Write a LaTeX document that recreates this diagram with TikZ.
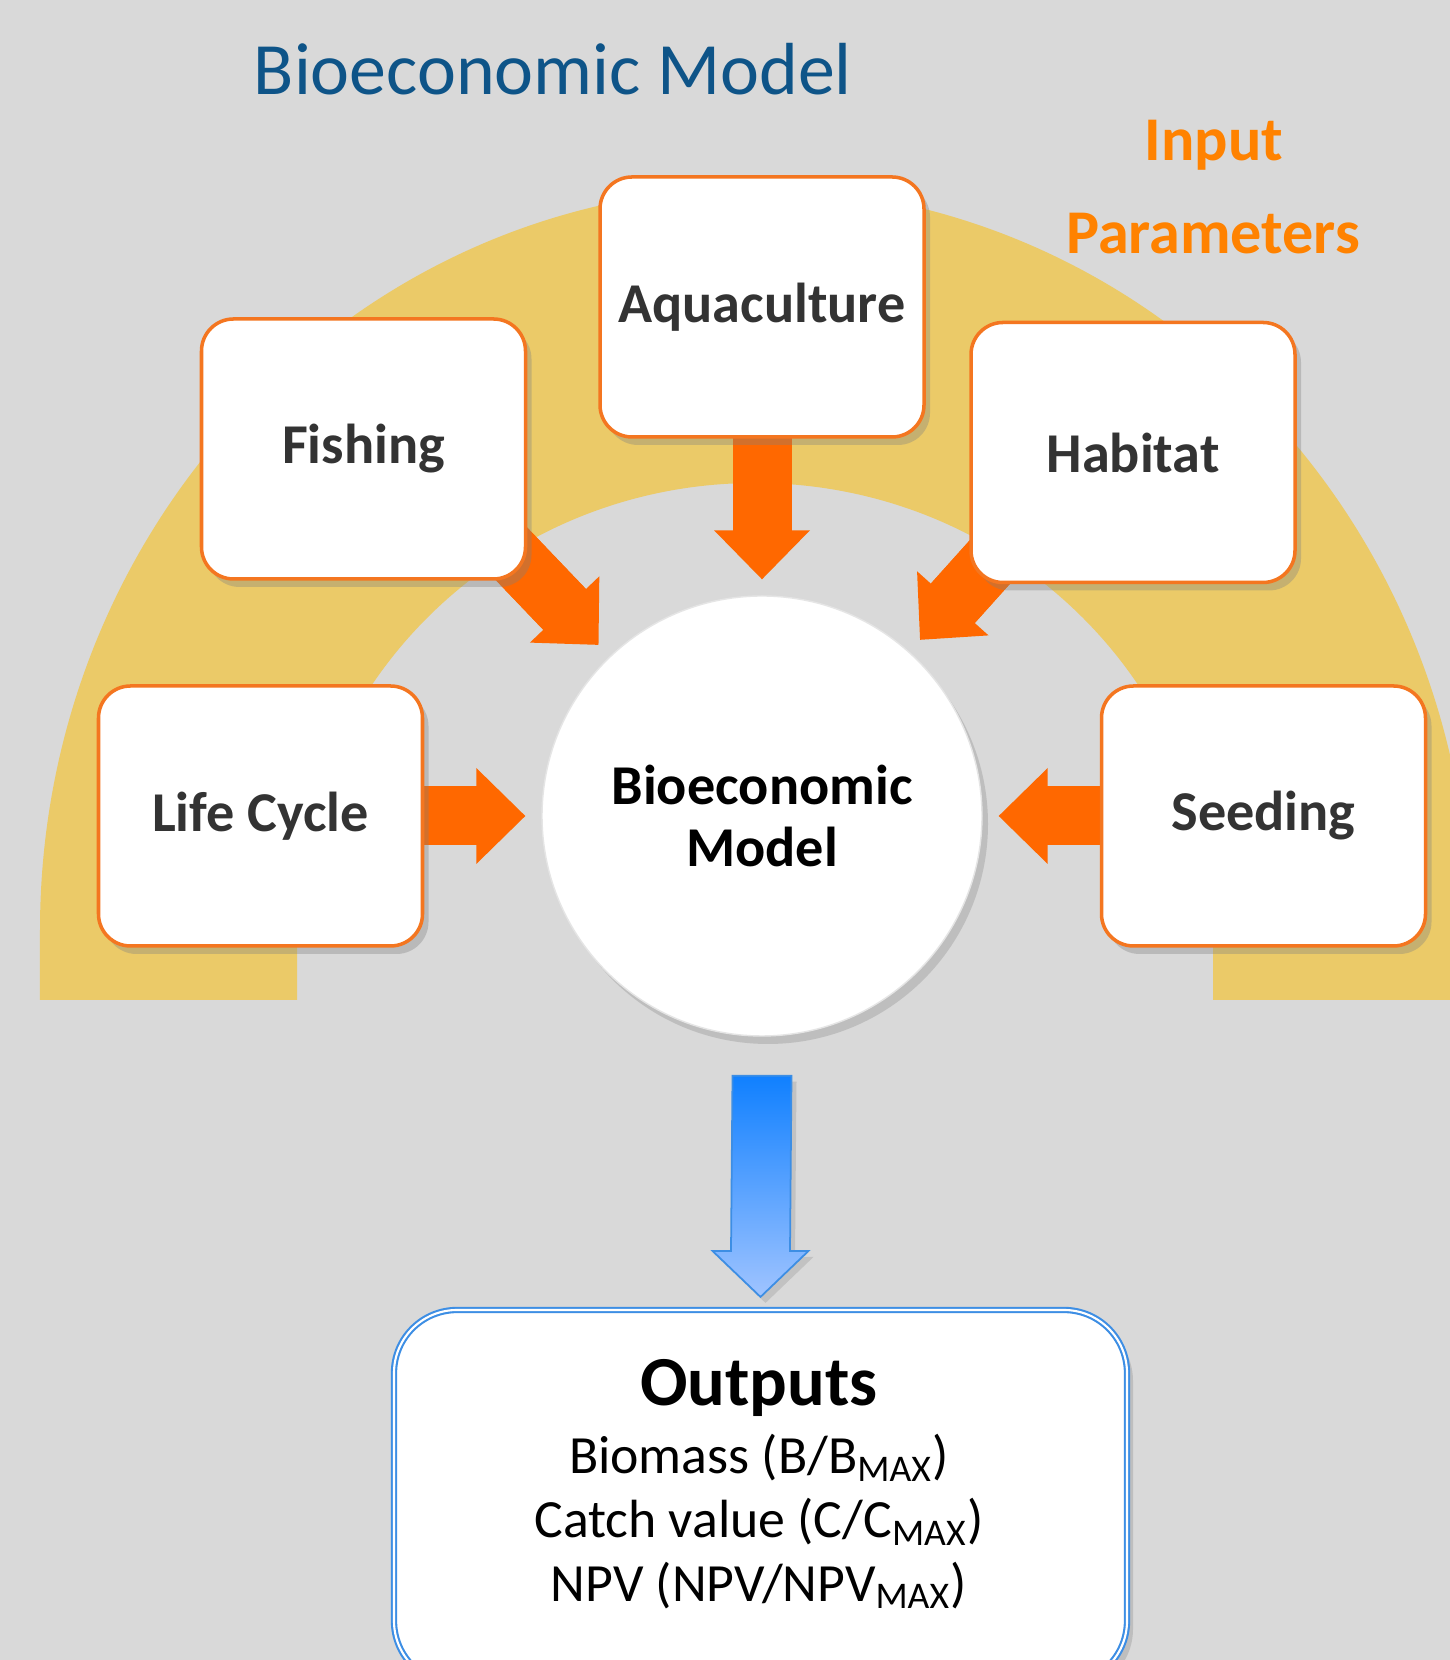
\documentclass[tikz,border=0pt]{standalone}
\usepackage{fontspec}
\setmainfont{Carlito}
\usetikzlibrary{arrows.meta,shadows}
\definecolor{BackClr}{RGB}{217,217,217}
\definecolor{ArchClr}{RGB}{235,202,104}
\definecolor{BoxClr}{RGB}{244,118,32}
\definecolor{ArrowClr}{RGB}{255,104,0}
\definecolor{TitleClr}{RGB}{14,84,136}
\definecolor{InputClr}{RGB}{255,130,0}
\definecolor{LabelClr}{RGB}{51,51,51}
\definecolor{OutClr}{RGB}{61,142,228}
\definecolor{BlueTop}{RGB}{16,128,255}
\definecolor{BlueBot}{RGB}{160,196,255}
\pgfdeclarelayer{backdrop}
\pgfdeclarelayer{links}
\pgfsetlayers{backdrop,links,main}

\begin{document}
\begin{tikzpicture}[
  box/.style={rectangle, rounded corners=0.32cm, draw=BoxClr, line width=1pt, fill=white,
    minimum width=3.24cm, minimum height=2.6cm, text=LabelClr,
    font=\fontsize{16pt}{19pt}\selectfont\bfseries,
    drop shadow={opacity=0.35, shadow xshift=0.6mm, shadow yshift=-0.8mm}},
  model/.style={circle, fill=white, draw=black!10, minimum size=4.4cm, inner sep=0pt,
    align=center, font=\fontsize{16pt}{17.6pt}\selectfont\bfseries,
    drop shadow={opacity=0.3, shadow xshift=0.6mm, shadow yshift=-0.8mm}},
  inarrow/.style={draw=ArrowClr, line width=0.59cm, shorten >=0.16cm,
    -{Triangle[length=0.49cm, width=0.96cm, line width=0pt]},
    preaction={draw=ArrowClr, line width=0.59cm, shorten >=0.55cm, -}},
  outbox/.style={rectangle, rounded corners=0.63cm, draw=OutClr, double=white,
    double distance=0.6pt, line width=0.6pt, fill=white,
    minimum width=7.33cm, minimum height=3.74cm,
    drop shadow={opacity=0.3, shadow xshift=0.6mm, shadow yshift=-0.8mm}},
  heading/.style={anchor=base, font=\fontsize{17.7pt}{21pt}\selectfont\bfseries, text=InputClr},
  outtext/.style={anchor=base, font=\fontsize{15.3pt}{18pt}\selectfont}
]
\useasboundingbox (0,0) rectangle (14.5,16.6);

\begin{pgfonlayer}{backdrop}
\fill[BackClr] (0,0) rectangle (14.5,16.6);
\fill[ArchClr] (0.40,6.60) -- (0.40,7.30)
  arc[start angle=180, end angle=0, x radius=7.15cm, y radius=7.42cm]
  -- (14.70,6.60) -- (12.13,6.60) -- (12.13,7.30)
  arc[start angle=0, end angle=180, x radius=4.58cm, y radius=4.47cm]
  -- (2.97,6.60) -- cycle;
\end{pgfonlayer}

\clip (0,0) rectangle (14.5,16.6);

\node[anchor=base, text=TitleClr, font=\fontsize{21pt}{25pt}\selectfont] (title) at (5.53,15.65) {Bioeconomic Model};
\node[heading] (inp) at (12.14,14.99) {Input};
\node[heading] (par) at (12.13,14.06) {Parameters};

\node[box] (aqua) at (7.62,13.53) {Aquaculture};
\node[box] (fish) at (3.635,12.11) {Fishing};
\node[box] (hab) at (11.33,12.075) {Habitat};
\node[box] (life) at (2.605,8.44) {Life Cycle};
\node[box] (seed) at (12.635,8.44) {Seeding};
\node[model] (model) at (7.62,8.44) {Bioeconomic\\Model};

\begin{pgfonlayer}{links}
\draw[inarrow] (aqua.center) -- (model);
\draw[inarrow] ([yshift=5mm]fish.center) -- (model);
\draw[inarrow] ([yshift=5mm]hab.center) -- (model);
\draw[inarrow] (life.center) -- (model);
\draw[inarrow] (seed.center) -- (model);
\end{pgfonlayer}

\node[outbox] (outbox) at (7.605,1.63) {};
\node[anchor=base, font=\fontsize{20pt}{24pt}\selectfont\bfseries] (outhead) at (7.59,2.54) {Outputs};
\node[outtext] (biomass) at (7.59,1.86) {Biomass (B/B\textsubscript{MAX})};
\node[outtext] (catch) at (7.59,1.22) {Catch value (C/C\textsubscript{MAX})};
\node[outtext] (npv) at (7.59,0.59) {NPV (NPV/NPV\textsubscript{MAX})};

\coordinate (otop) at ([yshift=-3.9mm]model.south);
\coordinate (otip) at ([yshift=1.2mm]outbox.north);
\shade[top color=BlueTop, bottom color=BlueBot, draw=OutClr, line width=0.5pt,
  drop shadow={opacity=0.25, shadow xshift=0.5mm, shadow yshift=-0.6mm}]
  ([xshift=-2.95mm]otop) -- ([xshift=2.95mm]otop)
  -- ([xshift=2.95mm,yshift=4.6mm]otip) -- ([xshift=4.8mm,yshift=4.6mm]otip)
  -- (otip) -- ([xshift=-4.8mm,yshift=4.6mm]otip)
  -- ([xshift=-2.95mm,yshift=4.6mm]otip) -- cycle;
\end{tikzpicture}
\end{document}
